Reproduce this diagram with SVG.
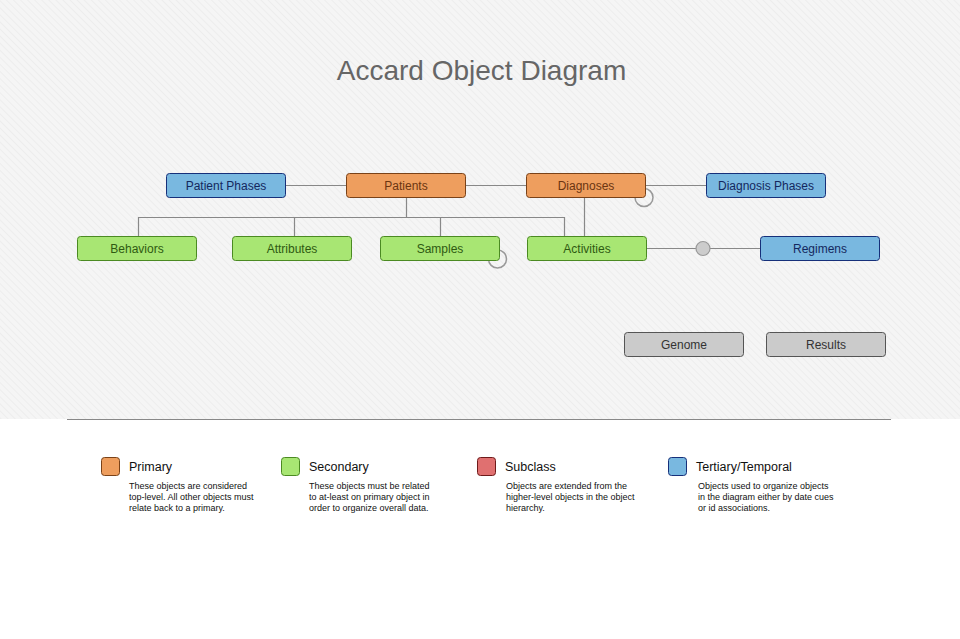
<svg xmlns="http://www.w3.org/2000/svg" width="960" height="639" viewBox="0 0 960 639">
<defs>
<pattern id="stripes" width="5" height="5" patternUnits="userSpaceOnUse" patternTransform="rotate(45)">
<rect width="5" height="5" fill="#f5f5f5"/>
<line x1="0" y1="0" x2="5" y2="0" stroke="#ebebeb" stroke-width="1.6"/>
</pattern>
<style>
.node text{font-family:"Liberation Sans",Arial,sans-serif;font-size:12px;text-anchor:middle}
.pri rect{fill:#ee9e5e;stroke:#7a4218}
.pri text{fill:#6b3511}
.sec rect{fill:#a8e673;stroke:#4b8a22}
.sec text{fill:#2f5a12}
.ter rect{fill:#79b8e0;stroke:#16307a}
.ter text{fill:#14285e}
.oth rect{fill:#cbcbcb;stroke:#555}
.oth text{fill:#333}
.edge{stroke:#888;stroke-width:1.2;fill:none}
.leg text{font-family:"Liberation Sans",Arial,sans-serif;fill:#111}
.lt{font-size:12.5px}
.ld{font-size:9px}
</style>
</defs>
<rect x="0" y="0" width="960" height="419" fill="url(#stripes)"/>
<rect x="0" y="419" width="960" height="220" fill="#ffffff"/>
<line x1="67" y1="419.5" x2="891" y2="419.5" stroke="#888" stroke-width="1"/>
<text x="481.5" y="80" font-family="'Liberation Sans',Arial,sans-serif" font-size="28" fill="#666" text-anchor="middle">Accard Object Diagram</text>

<g id="connectors">
<line class="edge" x1="285.5" y1="185.5" x2="346.5" y2="185.5"/>
<line class="edge" x1="465.5" y1="185.5" x2="526.5" y2="185.5"/>
<line class="edge" x1="645.5" y1="185.5" x2="706.5" y2="185.5"/>
<line class="edge" x1="406.5" y1="197.5" x2="406.5" y2="217.5"/>
<polyline class="edge" points="138.5,236.5 138.5,217.5 564.5,217.5 564.5,236.5"/>
<line class="edge" x1="294.5" y1="217.5" x2="294.5" y2="236.5"/>
<line class="edge" x1="440.5" y1="217.5" x2="440.5" y2="236.5"/>
<line class="edge" x1="584.5" y1="197.5" x2="584.5" y2="236.5"/>
<line class="edge" x1="646.5" y1="248.5" x2="760.5" y2="248.5"/>
<circle cx="644" cy="197.5" r="9" fill="none" stroke="#999" stroke-width="1.5"/>
<circle cx="497.5" cy="259" r="9" fill="none" stroke="#999" stroke-width="1.5"/>
<circle cx="703" cy="248.5" r="7" fill="#cccccc" stroke="#999" stroke-width="1.2"/>
</g>

<g id="node-patient-phases" class="node ter"><rect x="166.5" y="173.5" width="119" height="24" rx="3"/><text x="226" y="190">Patient Phases</text></g>
<g id="node-patients" class="node pri"><rect x="346.5" y="173.5" width="119" height="24" rx="3"/><text x="406" y="190">Patients</text></g>
<g id="node-diagnoses" class="node pri"><rect x="526.5" y="173.5" width="119" height="24" rx="3"/><text x="586" y="190">Diagnoses</text></g>
<g id="node-diagnosis-phases" class="node ter"><rect x="706.5" y="173.5" width="119" height="24" rx="3"/><text x="766" y="190">Diagnosis Phases</text></g>
<g id="node-behaviors" class="node sec"><rect x="77.5" y="236.5" width="119" height="24" rx="3"/><text x="137" y="253">Behaviors</text></g>
<g id="node-attributes" class="node sec"><rect x="232.5" y="236.5" width="119" height="24" rx="3"/><text x="292" y="253">Attributes</text></g>
<g id="node-samples" class="node sec"><rect x="380.5" y="236.5" width="119" height="24" rx="3"/><text x="440" y="253">Samples</text></g>
<g id="node-activities" class="node sec"><rect x="527.5" y="236.5" width="119" height="24" rx="3"/><text x="587" y="253">Activities</text></g>
<g id="node-regimens" class="node ter"><rect x="760.5" y="236.5" width="119" height="24" rx="3"/><text x="820" y="253">Regimens</text></g>
<g id="node-genome" class="node oth"><rect x="624.5" y="332.5" width="119" height="24" rx="3"/><text x="684" y="349">Genome</text></g>
<g id="node-results" class="node oth"><rect x="766.5" y="332.5" width="119" height="24" rx="3"/><text x="826" y="349">Results</text></g>

<g id="legend" class="leg">
<g id="legend-primary">
<rect x="101.5" y="457.5" width="18" height="18" rx="3" fill="#ee9e5e" stroke="#7a4218"/>
<text class="lt" x="129" y="471">Primary</text>
<text class="ld" x="129" y="489">These objects are considered</text>
<text class="ld" x="129" y="500">top-level. All other objects must</text>
<text class="ld" x="129" y="511">relate back to a primary.</text>
</g>
<g id="legend-secondary">
<rect x="281.5" y="457.5" width="18" height="18" rx="3" fill="#a8e673" stroke="#4b8a22"/>
<text class="lt" x="309" y="471">Secondary</text>
<text class="ld" x="309" y="489">These objects must be related</text>
<text class="ld" x="309" y="500">to at-least on primary object in</text>
<text class="ld" x="309" y="511">order to organize overall data.</text>
</g>
<g id="legend-subclass">
<rect x="477.5" y="457.5" width="18" height="18" rx="3" fill="#e07070" stroke="#6e1a1a"/>
<text class="lt" x="505" y="471">Subclass</text>
<text class="ld" x="506" y="489">Objects are extended from the</text>
<text class="ld" x="506" y="500">higher-level objects in the object</text>
<text class="ld" x="506" y="511">hierarchy.</text>
</g>
<g id="legend-tertiary">
<rect x="668.5" y="457.5" width="18" height="18" rx="3" fill="#79b8e0" stroke="#16307a"/>
<text class="lt" x="696" y="471">Tertiary/Temporal</text>
<text class="ld" x="698" y="489">Objects used to organize objects</text>
<text class="ld" x="698" y="500">in the diagram either by date cues</text>
<text class="ld" x="698" y="511">or id associations.</text>
</g>
</g>
</svg>
